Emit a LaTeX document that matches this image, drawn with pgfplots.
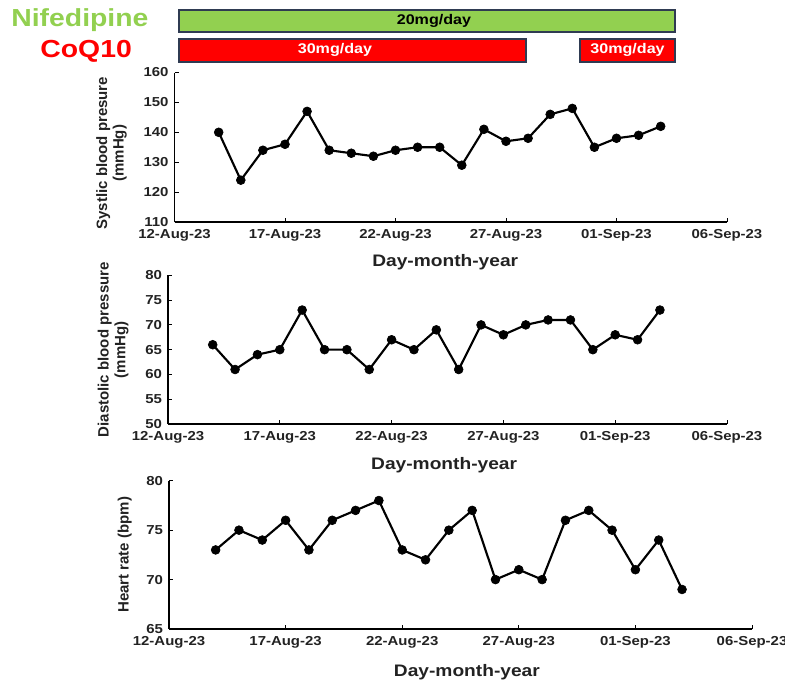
\documentclass[border=0pt]{standalone}
\usepackage{fontspec}
\setmainfont{Liberation Sans}[FakeStretch=1.15]
\newfontfamily\yfont{Liberation Sans}
\usepackage{pgfplots}
\pgfplotsset{compat=1.18}
\definecolor{nifgreen}{HTML}{92D050}
\definecolor{coqred}{HTML}{FF0000}
\definecolor{bardark}{HTML}{2F3B52}
\definecolor{txt}{HTML}{222222}
\pgfplotsset{
  panel/.style={
    scale only axis,
    axis lines=left,
    axis line style={-, black, line width=0.8pt},
    enlargelimits=false,
    xmin=0, xmax=25,
    xtick={0,5,10,15,20,25},
    xticklabels={12-Aug-23,17-Aug-23,22-Aug-23,27-Aug-23,01-Sep-23,06-Sep-23},
    tick align=inside,
    major tick length=3pt,
    tick style={black, line width=0.7pt},
    /pgf/number format/assume math mode=true,
    tick label style={font=\bfseries\fontsize{9.75}{10}\selectfont, text=txt},
    xticklabel style={yshift=-2.2pt},
    yticklabel style={xshift=-1pt},
    xlabel={Day-month-year},
    xlabel style={font=\bfseries\fontsize{12.5}{13}\selectfont, text=txt},
    ylabel style={font=\yfont\bfseries\fontsize{11.25}{12.5}\selectfont, text=txt, align=center, anchor=center},
    clip=false,
  },
  series/.style={black, line width=1.6pt, mark=*, mark size=3.3pt, mark options={fill=black, line width=0.5pt}},
}
\pgfplotstableread{
day sys dia hr
2  140 66 73
3  124 61 75
4  134 64 74
5  136 65 76
6  147 73 73
7  134 65 76
8  133 65 77
9  132 61 78
10 134 67 73
11 135 65 72
12 135 69 75
13 129 61 77
14 141 70 70
15 137 68 71
16 138 70 70
17 146 71 76
18 148 71 77
19 135 65 75
20 138 68 71
21 139 67 74
22 142 73 69
}\datatable
\begin{document}
\begin{tikzpicture}
% ---- Top panel: systolic
\begin{axis}[panel,
  at={(130.875pt,-166.5pt)}, anchor=south west,
  width=414.375pt, height=112.125pt,
  ymin=110, ymax=160, ytick={110,120,...,160},
  xlabel style={at={(axis description cs:0.49,-0.27)}, anchor=center},
  ylabel={Systlic blood presure\\(mmHg)},
  ylabel style={at={(axis description cs:-0.114,0.46)}, rotate=0},
]
\addplot[series] table[x=day, y=sys] {\datatable};
% treatment timeline bars
\addplot[fill=nifgreen, draw=bardark, line width=1.1pt, forget plot] coordinates {(0.2,173.5) (22.65,173.5) (22.65,180.9) (0.2,180.9)} -- cycle;
\addplot[fill=coqred, draw=bardark, line width=1.1pt, forget plot] coordinates {(0.2,163.5) (15.9,163.5) (15.9,171.2) (0.2,171.2)} -- cycle;
\addplot[fill=coqred, draw=bardark, line width=1.1pt, forget plot] coordinates {(18.35,163.5) (22.65,163.5) (22.65,171.2) (18.35,171.2)} -- cycle;
\node[font=\bfseries\fontsize{10.5}{11}\selectfont, text=black] at (axis cs:11.74,177.2) {20mg/day};
\node[font=\bfseries\fontsize{10.5}{11}\selectfont, text=white] at (axis cs:7.26,167.4) {30mg/day};
\node[font=\bfseries\fontsize{10.5}{11}\selectfont, text=white] at (axis cs:20.5,167.4) {30mg/day};
\node[font=\bfseries\fontsize{18.5}{19}\selectfont, text=nifgreen] at (axis cs:-4.28,177.6) {Nifedipine};
\node[font=\bfseries\fontsize{18.5}{19}\selectfont, text=coqred] at (axis cs:-4.0,167.0) {CoQ10};
\end{axis}
% ---- Middle panel: diastolic
\begin{axis}[panel,
  at={(126pt,-318pt)}, anchor=south west,
  width=419.25pt, height=111.5pt,
  ymin=50, ymax=80, ytick={50,55,...,80},
  xlabel style={at={(axis description cs:0.494,-0.275)}, anchor=center},
  ylabel={Diastolic blood pressure\\(mmHg)},
  ylabel style={at={(axis description cs:-0.098,0.5)}},
]
\addplot[series] table[x=day, y=dia] {\datatable};
\end{axis}
% ---- Bottom panel: heart rate
\begin{axis}[panel,
  at={(126.75pt,-471.75pt)}, anchor=south west,
  width=437.25pt, height=111.2pt,
  ymin=65, ymax=80, ytick={65,70,75,80},
  xlabel style={at={(axis description cs:0.511,-0.29)}, anchor=center},
  ylabel={Heart rate (bpm)},
  ylabel style={at={(axis description cs:-0.076,0.5)}},
]
\addplot[series] table[x=day, y=hr] {\datatable};
\end{axis}
\pgfresetboundingbox
\path (0pt,0pt) rectangle (588.75pt,-511.5pt);
\end{tikzpicture}
\end{document}
